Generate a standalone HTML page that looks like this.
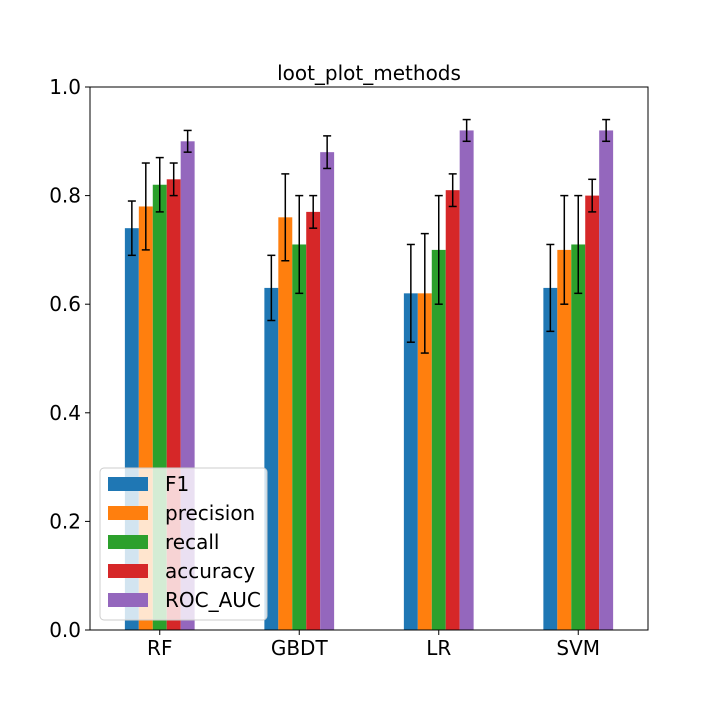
<!DOCTYPE html>
<html><head><meta charset="utf-8"><style>body{margin:0;background:#fff}svg{font-family:"DejaVu Sans","Liberation Sans",sans-serif}</style></head>
<body>
<svg id="chart" width="720" height="720"></svg>
<script>
const categories=["RF","GBDT","LR","SVM"];
const seriesNames=["F1","precision","recall","accuracy","ROC_AUC"];
const colors=["#1f77b4","#ff7f0e","#2ca02c","#d62728","#9467bd"];
const f1=[0.74,0.63,0.62,0.63];
const f1Err=[0.05,0.06,0.09,0.08];
const precision=[0.78,0.76,0.62,0.70];
const precisionErr=[0.08,0.08,0.11,0.10];
const recall=[0.82,0.71,0.70,0.71];
const recallErr=[0.05,0.09,0.10,0.09];
const accuracy=[0.83,0.77,0.81,0.80];
const accuracyErr=[0.03,0.03,0.03,0.03];
const rocAuc=[0.90,0.88,0.92,0.92];
const rocAucErr=[0.02,0.03,0.02,0.02];
const yTicks=[0,0.2,0.4,0.6,0.8,1.0];
const yTickLabels=["0.0","0.2","0.4","0.6","0.8","1.0"];
const series=[f1,precision,recall,accuracy,rocAuc];
const errs=[f1Err,precisionErr,recallErr,accuracyErr,rocAucErr];

const L=90,R=648,T=87,B=630;
const x=v=>L+(v+0.5)/4*(R-L);
const y=v=>B-v*(B-T);
const svg=document.getElementById('chart');
const NS="http://www.w3.org/2000/svg";
function mk(tag,attrs,parent){const e=document.createElementNS(NS,tag);for(const k in attrs)e.setAttribute(k,attrs[k]);(parent||svg).appendChild(e);return e;}
const bw=x(0.1)-x(0);
series.forEach((vals,s)=>{
  vals.forEach((v,i)=>{
    const cx=x(i+(s-2)*0.1);
    const r=mk('rect',{x:cx-bw/2,y:y(v),width:bw,height:y(0)-y(v),fill:colors[s]});
    
    
    const e=errs[s][i];
    const g=mk('g',{stroke:'#000','stroke-width':1.5});
    
    
    mk('line',{x1:cx,x2:cx,y1:y(v-e),y2:y(v+e)},g);
    mk('line',{x1:cx-4,x2:cx+4,y1:y(v-e),y2:y(v-e)},g);
    mk('line',{x1:cx-4,x2:cx+4,y1:y(v+e),y2:y(v+e)},g);
  });
});
const frame=mk('rect',{x:L,y:T,width:R-L,height:B-T,fill:'none',stroke:'#000','stroke-width':1});


yTicks.forEach((t,i)=>{
  mk('line',{x1:L-5,x2:L,y1:y(t),y2:y(t),stroke:'#000'});
  const tx=mk('text',{x:L-9,y:y(t)+7,'text-anchor':'end','font-size':20});
  tx.textContent=yTickLabels[i];
  
  
});
categories.forEach((c,i)=>{
  mk('line',{x1:x(i),x2:x(i),y1:B,y2:B+5,stroke:'#000'});
  const tx=mk('text',{x:x(i),y:B+25,'text-anchor':'middle','font-size':20});
  tx.textContent=c;
  
  
});
const title=mk('text',{x:(L+R)/2,y:80,'text-anchor':'middle','font-size':20});
title.textContent="loot_plot_methods";


const lg=mk('g',{});


mk('rect',{x:100,y:468,width:167,height:152,rx:4,fill:'#fff','fill-opacity':0.8,stroke:'#ccc'},lg);
seriesNames.forEach((n,s)=>{
  const yy=484+s*29;
  const p=mk('rect',{x:108,y:yy-7,width:40,height:14,fill:colors[s]},lg);
  
  
  const t=mk('text',{x:165,y:yy+7,'font-size':20},lg);
  t.textContent=n;
  
  
});
</script>
</body></html>
